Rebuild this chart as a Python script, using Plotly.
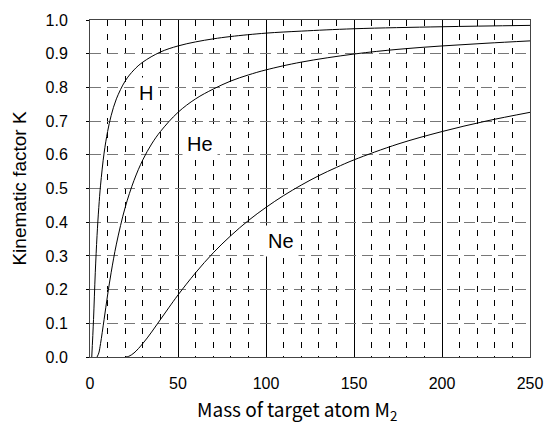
import plotly.graph_objects as go

# Mass of target atom M2 and kinematic factor K
h_m2 = [1, 2, 3, 4, 5, 6, 8, 10, 12, 15, 20, 25, 30, 40, 50, 60, 70, 80, 100, 120, 150, 200, 250]
h_k = [0.0, 0.111, 0.25, 0.36, 0.444, 0.51, 0.605, 0.669, 0.716, 0.766, 0.819, 0.852, 0.875,
       0.905, 0.923, 0.935, 0.944, 0.951, 0.961, 0.967, 0.974, 0.98, 0.984]

he_m2 = [4, 5, 6, 8, 10, 12, 15, 20, 25, 30, 35, 40, 50, 60, 70, 80, 90, 100, 120, 150, 175, 200, 225, 250]
he_k = [0.0, 0.012, 0.04, 0.111, 0.184, 0.25, 0.335, 0.444, 0.524, 0.585, 0.632, 0.669, 0.726,
        0.766, 0.795, 0.819, 0.837, 0.852, 0.875, 0.899, 0.913, 0.923, 0.931, 0.938]

ne_m2 = [20, 22, 25, 30, 35, 40, 45, 50, 60, 70, 80, 90, 100, 110, 120, 130, 140, 150, 175, 200, 225, 250]
ne_k = [0.0, 0.002, 0.012, 0.04, 0.074, 0.111, 0.148, 0.184, 0.25, 0.309, 0.36, 0.405, 0.444,
        0.479, 0.51, 0.538, 0.5625, 0.585, 0.632, 0.669, 0.7, 0.726]

labels = ["H", "He", "Ne"]
label_x = [32, 62.6, 108.6]
label_y = [0.782, 0.633, 0.343]

x_title = "Mass of target atom M<sub>2</sub>"
y_title = "Kinematic factor K"

FONT = "Liberation Sans"

fig = go.Figure()
for xs, ys in [(h_m2, h_k), (he_m2, he_k), (ne_m2, ne_k)]:
    fig.add_trace(go.Scatter(x=xs, y=ys, mode="lines", line=dict(color="black", width=1, shape="spline"),
                             showlegend=False, hoverinfo="skip"))

for t, x, y in zip(labels, label_x, label_y):
    fig.add_annotation(x=x, y=y, text=t, showarrow=False, bgcolor="white", borderpad=4,
                       font=dict(family=FONT, size=20, color="black"))

# x-axis title (slightly left of centre, as in the reference)
fig.add_annotation(xref="paper", yref="paper", x=0.47, y=0, yshift=-53, yanchor="middle",
                   text=x_title, showarrow=False,
                   font=dict(family="Noto Sans CJK JP", size=19, color="black"))

fig.update_layout(
    width=555, height=425,
    margin=dict(l=90, r=14, t=16, b=68),
    paper_bgcolor="white", plot_bgcolor="white",
    font=dict(family=FONT, size=16, color="black"),
)
fig.update_xaxes(
    range=[0, 250], tickvals=[0, 50, 100, 150, 200, 250],
    tickfont=dict(family=FONT, size=16, color="black"),
    showgrid=True, gridcolor="black", gridwidth=1,
    minor=dict(dtick=10, showgrid=True, gridcolor="black", gridwidth=1, griddash="6px,8px", ticks=""),
    showline=True, linecolor="#444", linewidth=1, mirror=True,
    ticks="", ticklabelstandoff=12, zeroline=False,
)
fig.update_yaxes(
    range=[0, 1.0], dtick=0.1, tickformat=".1f",
    tickfont=dict(family=FONT, size=16, color="black"),
    showgrid=True, gridcolor="#777", gridwidth=1, griddash="11px,6px",
    showline=True, linecolor="#444", linewidth=1, mirror=True,
    ticks="outside", ticklen=3, tickcolor="black", ticklabelstandoff=15, zeroline=False,
    title=dict(text=y_title, font=dict(family=FONT, size=19), standoff=13),
)

fig.write_html("out.html")
